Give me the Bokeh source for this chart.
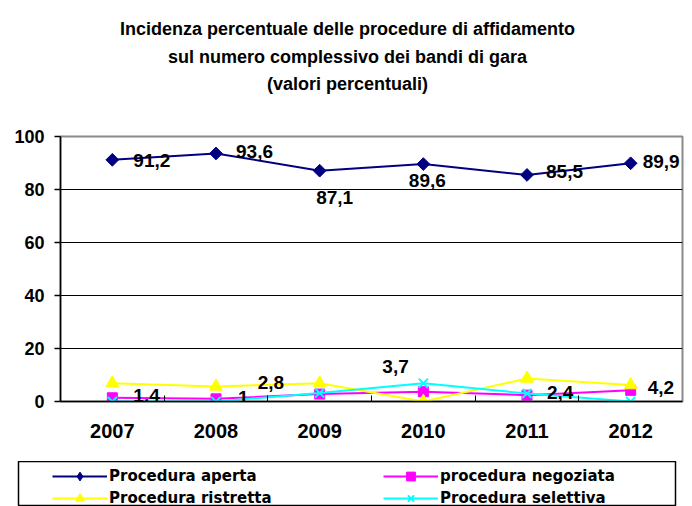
import math
from bokeh.plotting import figure
from bokeh.layouts import column
from bokeh.models import (Range1d, FixedTicker, ColumnDataSource, LabelSet, Label,
                          Legend, LegendItem)
from bokeh.core.properties import value
from bokeh.embed import file_html
from bokeh.resources import INLINE

# ---- data ----
years = ["2007", "2008", "2009", "2010", "2011", "2012"]
aperta = [91.2, 93.6, 87.1, 89.6, 85.5, 89.9]
negoziata = [1.4, 1.0, 2.8, 3.7, 2.4, 4.2]
ristretta = [6.9, 5.7, 6.9, 0.0, 8.7, 6.2]
selettiva = [0.0, 0.0, 3.2, 6.9, 3.0, 0.0]
aperta_labels = ["91,2", "93,6", "87,1", "89,6", "85,5", "89,9"]
negoziata_labels = ["1,4", "1", "2,8", "3,7", "2,4", "4,2"]
title_lines = ["Incidenza percentuale delle procedure di affidamento",
               "sul numero complessivo dei bandi di gara",
               "(valori percentuali)"]
series_names = ["Procedura aperta", "procedura negoziata",
                "Procedura ristretta", "Procedura selettiva"]
y_ticks = [0, 20, 40, 60, 80, 100]

FONT = "Liberation Sans"
xs = [i + 0.5 for i in range(len(years))]

# ---------------- title figure ----------------
pt = figure(width=692, height=110, output_backend="svg", toolbar_location=None,
            x_axis_type=None, y_axis_type=None, x_range=Range1d(0, 1),
            y_range=Range1d(0, 1), min_border=0)
pt.frame_align = False
pt.outline_line_color = None
pt.xgrid.grid_line_color = None
pt.ygrid.grid_line_color = None
for line, yy in zip(title_lines, [82, 54, 27]):
    pt.add_layout(Label(x=347, y=yy, x_units="screen", y_units="screen", text=line,
                        text_font=FONT, text_font_style="bold",
                        text_font_size="18px", text_align="center",
                        text_baseline="alphabetic", text_color="black"))

# ---------------- main figure ----------------
p = figure(width=692, height=351, output_backend="svg", toolbar_location=None,
           title=None, x_range=Range1d(0, len(years)), y_range=Range1d(0, 100),
           min_border_left=60, min_border_right=10, min_border_top=26,
           min_border_bottom=60)
p.frame_align = False
p.background_fill_color = "white"
p.border_fill_color = "white"
p.outline_line_color = "#8a8a8a"
p.outline_line_width = 2

p.xaxis.ticker = FixedTicker(ticks=xs, minor_ticks=[1, 2, 3, 4, 5])
p.xaxis.major_label_overrides = {x: y for x, y in zip(xs, years)}
p.xaxis.major_tick_line_color = None
p.xaxis.minor_tick_in = 6
p.xaxis.minor_tick_out = 0
p.xaxis.minor_tick_line_color = "black"
p.xaxis.minor_tick_line_width = 1
p.xaxis.axis_line_color = "black"
p.xaxis.axis_line_width = 1.5
p.xaxis.major_label_standoff = 16
p.xaxis.major_label_text_font = FONT
p.xaxis.major_label_text_font_style = "bold"
p.xaxis.major_label_text_font_size = "20px"
p.xaxis.major_label_text_color = "black"

p.yaxis.ticker = FixedTicker(ticks=y_ticks)
p.yaxis.minor_tick_line_color = None
p.yaxis.major_tick_in = 0
p.yaxis.major_tick_out = 6
p.yaxis.major_tick_line_color = "black"
p.yaxis.major_tick_line_width = 1.5
p.yaxis.axis_line_color = "black"
p.yaxis.axis_line_width = 1.5
p.yaxis.major_label_standoff = 10
p.yaxis.major_label_text_font = FONT
p.yaxis.major_label_text_font_style = "bold"
p.yaxis.major_label_text_font_size = "18px"
p.yaxis.major_label_text_color = "black"

p.xgrid.grid_line_color = None
p.ygrid.ticker = FixedTicker(ticks=y_ticks[1:-1])
p.ygrid.grid_line_color = "black"
p.ygrid.grid_line_width = 1.2

# (values, colour, marker in plot, size, angle, marker in legend)
specs = [
    (aperta, "#000080", "square", 9, math.pi / 4, "diamond"),
    (negoziata, "#FF00FF", "square", 10, 0, "square"),
    (ristretta, "#FFFF00", "triangle", 13, 0, "triangle"),
    (selettiva, "#00FFFF", "x", 13, 0, "x"),
]


def add_series(fig, vals, color, marker, size, ang):
    src = ColumnDataSource(dict(x=xs, y=vals))
    ln = fig.line("x", "y", source=src, line_color=color, line_width=2)
    if marker == "x":
        mk = fig.scatter("x", "y", source=src, marker=marker, size=size,
                         line_color=color, line_width=2)
    else:
        mk = fig.scatter("x", "y", source=src, marker=marker, size=size,
                         angle=ang, fill_color=color, line_color=color)
    return [ln, mk]


for vals, color, marker, size, ang, _ in specs:
    add_series(p, vals, color, marker, size, ang)

lab_style = dict(text_font=value(FONT), text_font_style="bold",
                 text_font_size="19px", text_color="black",
                 text_baseline="middle")
src_a = ColumnDataSource(dict(
    x=xs, y=aperta, t=aperta_labels,
    dx=[21, 20, 15, 4, 19, 12], dy=[-1, 2, -27, -16, 3, 2],
    al=["left", "left", "center", "center", "left", "left"]))
p.add_layout(LabelSet(x="x", y="y", text="t", source=src_a, x_offset="dx",
                      y_offset="dy", text_align="al", **lab_style))
src_n = ColumnDataSource(dict(
    x=xs, y=negoziata, t=negoziata_labels,
    dx=[21, 22, -62, -41, 20, 17], dy=[2, 1, 12, 25, 3, 3]))
p.add_layout(LabelSet(x="x", y="y", text="t", source=src_n, x_offset="dx",
                      y_offset="dy", text_align="left", **lab_style))

# ---------------- legend figure ----------------
# the series are drawn here too, but the y range keeps them out of view:
# only their legend glyphs are shown
pl = figure(width=692, height=45, output_backend="svg", toolbar_location=None,
            x_axis_type=None, y_axis_type=None, x_range=Range1d(0, len(years)),
            y_range=Range1d(500, 501), min_border_left=18, min_border_right=17,
            min_border_top=0, min_border_bottom=0)
pl.frame_align = False
pl.outline_line_color = "black"
pl.outline_line_width = 1.5
pl.xgrid.grid_line_color = None
pl.ygrid.grid_line_color = None
items = []
for (vals, color, _, size, _a, lmarker), name in zip(specs, series_names):
    rs = add_series(pl, vals, color, lmarker, size, 0)
    items.append(LegendItem(label=name, renderers=rs))

leg_style = dict(padding=0, spacing=0, glyph_width=55, glyph_height=22,
                 label_height=22, label_standoff=2, border_line_alpha=0,
                 background_fill_alpha=0, label_text_font="DejaVu Sans",
                 label_text_font_style="bold", label_text_font_size="15px",
                 label_text_color="black")
pl.add_layout(Legend(items=[items[0], items[2]], location=(34, -3), **leg_style),
              "center")
pl.add_layout(Legend(items=[items[1], items[3]], location=(365, -3), **leg_style),
              "center")

layout = column(pt, p, pl, spacing=0)
open("out.html", "w").write(file_html(layout, INLINE))
